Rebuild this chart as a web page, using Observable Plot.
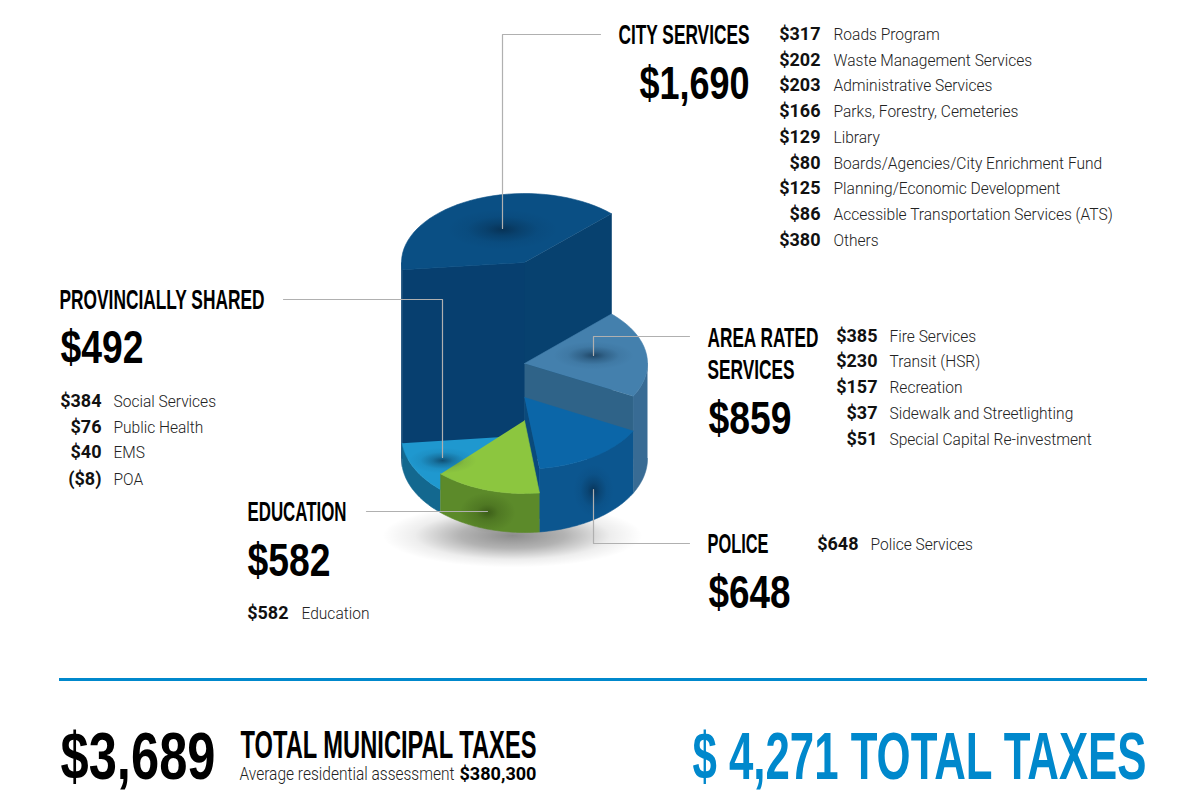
<!DOCTYPE html>
<html><head><meta charset="utf-8">
<style>html,body{margin:0;padding:0;background:#fff}svg{display:block}</style>
<script src="https://cdn.jsdelivr.net/npm/d3@7"></script>
<script src="https://cdn.jsdelivr.net/npm/@observablehq/plot@0.6"></script>
</head><body><div id="chart"></div>
<script>
// ---- data ----
const sliceNames  = ["CITY SERVICES","AREA RATED SERVICES","POLICE","EDUCATION","PROVINCIALLY SHARED"];
const sliceTotals = [1690,859,648,582,492];
const sliceSweeps = [141,73,55,50,41];
const cityValues = [317,202,203,166,129,80,125,86,380];
const cityNames  = ["Roads Program","Waste Management Services","Administrative Services","Parks, Forestry, Cemeteries","Library","Boards/Agencies/City Enrichment Fund","Planning/Economic Development","Accessible Transportation Services (ATS)","Others"];
const areaValues = [385,230,157,37,51];
const areaNames  = ["Fire Services","Transit (HSR)","Recreation","Sidewalk and Streetlighting","Special Capital Re-investment"];
const policeValues = [648];
const policeNames  = ["Police Services"];
const eduValues = [582];
const eduNames  = ["Education"];
const provValues = [384,76,40,-8];
const provNames  = ["Social Services","Public Health","EMS","POA"];
const totalMunicipal = 3689, totalTaxes = 4271, assessment = 380300;

// ---- layout ----
const money = v => v < 0 ? `($${-v})` : `$${d3.format(",")(v)}`;
const cx = 524, rx = 123, baseY = 458, baseRy = 74;
const startAngle = -45;
// height of each extruded slice grows with its total
const levelY  = d3.scaleLinear().domain([492,582,648,859,1690]).range([435,420,397,363,262]);
const levelRy = d3.scaleLinear().domain([492,582,648,859,1690]).range([74,73,71.5,70,69]);
const rad = d => d*Math.PI/180;
const pt = (a,cy,ry) => ({x: cx+rx*Math.cos(rad(a)), y: cy+ry*Math.sin(rad(a))});
const arc = (a0,a1,cy,ry) => d3.range(0,41).map(i => pt(a0+(a1-a0)*i/40,cy,ry));

const palette = [
  {top:"#0a4f84", side:"#073f6f", face:"#073f6f", face2:"#07416f"},
  {top:"#4480ad", side:"#386b94", face:"#2f6388", face2:"#2f6388"},
  {top:"#0b66a8", side:"#0c568f", face:"#0a4a7c", face2:"#0a4a7c"},
  {top:"#8cc63f", side:"#5c8a2a", face:"#5c8a2a", face2:"#5c8a2a"},
  {top:"#1f98cf", side:"#13688f", face:"#13688f", face2:"#13688f"}
];
let acc = startAngle;
const wedges = sliceTotals.map((v,i)=>{
  let w;
  if (i===0) w = {a0:startAngle+360-sliceSweeps[0],a1:startAngle+360};
  else { w = {a0:acc,a1:acc+sliceSweeps[i]}; acc += sliceSweeps[i]; }
  return {...w, cy:levelY(v), ry:levelRy(v), c:palette[i]};
});

const poly = (pts,fill) => Plot.line(pts,{x:"x",y:"y",fill,stroke:fill.startsWith("url")?"none":fill,strokeWidth:0.6,curve:"linear"});
const spot = (x,y,a,b,id="spot") => poly(arc(0,360,y,b).map(p=>({x:x+(p.x-cx)*a/rx,y:p.y})),`url(#${id})`);

function wedgeMarks(w,i){
  const apex = {x:cx,y:w.cy};
  const out = [];
  const p0 = pt(w.a0,w.cy,w.ry), p1 = pt(w.a1,w.cy,w.ry);
  if (i===0){
    // left face runs a little under the right face so that no seam shows
    out.push(poly([apex,p0,{x:p0.x,y:baseY},{x:cx+3,y:baseY},{x:cx+3,y:w.cy}],w.c.face));
    out.push(poly([apex,p1,{x:p1.x,y:baseY},{x:cx,y:baseY}],w.c.face2));
    out.push(poly([...arc(w.a0,180,w.cy,w.ry),...arc(180,w.a0,baseY,baseRy)],w.c.side));
  }
  if (i===1) out.push(poly([apex,p1,{x:p1.x,y:baseY},{x:cx,y:baseY}],w.c.face));
  if (i===2) out.push(poly([apex,p1,{x:p1.x,y:baseY+60},{x:cx,y:baseY+60}],w.c.face));
  if (i>0){
    const a = Math.max(w.a0,0), b = Math.min(w.a1,180);
    out.push(poly([...arc(a,b,w.cy,w.ry),...arc(b,a,baseY,baseRy)],w.c.side));
  }
  out.push(poly([apex,...arc(w.a0,w.a1,w.cy,w.ry)],w.c.top));
  return out;
}
const pieMarks = [0,1,2,4,3].flatMap(i => wedgeMarks(wedges[i],i));

// text tables
const itemRows = (vals,names,right,left,ys) => ({
  amounts: vals.map((v,i)=>({t:money(v),x:right,y:ys[i]})),
  names: names.map((n,i)=>({t:n,x:left,y:ys[i]}))
});
const blocks = [
  itemRows(cityValues,cityNames,820,833,[39,65,90,116,142,168,193,219,245]),
  itemRows(areaValues,areaNames,877,889,[341,366,392,418,444]),
  itemRows(policeValues,policeNames,858,870,[549]),
  itemRows(eduValues,eduNames,288,301,[618]),
  itemRows(provValues,provNames,101,113,[406,432,457,484])
];
const amounts = blocks.flatMap(b=>b.amounts), names = blocks.flatMap(b=>b.names);

const headsEnd = [{t:sliceNames[0],x:749,y:43,w:131}];
const heads = [
  {t:"AREA RATED",x:707,y:346.5,w:111},
  {t:"SERVICES",x:707,y:378.5,w:87},
  {t:sliceNames[2],x:707,y:552.5,w:61},
  {t:sliceNames[3],x:247,y:520.5,w:99},
  {t:sliceNames[4],x:59,y:308.5,w:205}
];
const bigs = [
  {t:money(sliceTotals[0]),x:639,y:98.5,w:110},
  {t:money(sliceTotals[1]),x:708,y:433,w:83},
  {t:money(sliceTotals[2]),x:708,y:607,w:82},
  {t:money(sliceTotals[3]),x:247,y:575,w:83},
  {t:money(sliceTotals[4]),x:60,y:362,w:83}
];
const footBig = [
  {t:money(totalMunicipal),x:60,y:778,w:155,f:"#000"},
  {t:`$ ${d3.format(",")(totalTaxes)} TOTAL TAXES`,x:692,y:778,w:454,f:"#0088cc"}
];
const footHead = [{t:"TOTAL MUNICIPAL TAXES",x:240,y:757,w:296}];
const footSub = [{t:"Average residential assessment",x:239,y:779,w:215}];
const footSubB = [{t:money(assessment),x:459,y:779,w:77}];

const leaders = [
  [[502,228],[502,34],[600,34]],
  [[283,299],[442,299],[442,457]],
  [[366,511],[487,511]],
  [[689,336],[593,336],[593,355]],
  [[593,489],[593,543],[689,543]]
].flatMap((l,k)=>l.map(([x,y])=>({x,y,k})));

const display = '"Liberation Sans",sans-serif';
const txt = (data,opts) => Plot.text(data,{x:"x",y:"y",text:"t",lineAnchor:"bottom",...opts});

const defs = () => {
  const d = d3.create("svg:defs");
  const g = (id,stops) => {
    const r = d.append("radialGradient").attr("id",id);
    stops.forEach(([o,c,a])=>r.append("stop").attr("offset",o).attr("stop-color",c).attr("stop-opacity",a));
  };
  g("spot",[[0,"#062038",0.6],[0.3,"#062038",0.3],[0.65,"#062038",0.07],[1,"#062038",0]]);
  g("spotGreen",[[0,"#223a0a",0.55],[0.4,"#223a0a",0.22],[1,"#223a0a",0]]);
  g("ground",[[0,"#000",0.45],[0.4,"#000",0.3],[0.75,"#000",0.07],[1,"#000",0]]);
  return d.node();
};

const chart = Plot.plot({
  width:1200,height:802,margin:0,
  x:{domain:[0,1200],range:[0,1200],axis:null},
  y:{domain:[0,802],range:[0,802],axis:null},
  style:{background:"#fff",overflow:"visible"},
  marks:[
    defs,
    spot(512,535,130,32,"ground"),
    ...pieMarks,
    spot(502,229,55,20),
    spot(593,355,40,14),
    spot(593,490,20,26),
    spot(442,460,34,13),
    spot(487,512,28,20,"spotGreen"),
    Plot.line(leaders,{x:"x",y:"y",z:"k",stroke:"#b0b0b0",strokeWidth:1.2,curve:"linear"}),
    Plot.ruleY([679],{x1:59,x2:1147,stroke:"#0088cc",strokeWidth:3}),
    txt(amounts,{textAnchor:"end",fontFamily:"Roboto",fontWeight:700,fontSize:18,fill:"#111"}),
    txt(names,{textAnchor:"start",fontFamily:"Roboto",fontWeight:300,fontSize:17,fill:"#222"}),
    txt(headsEnd,{textAnchor:"end",fontFamily:display,fontWeight:700,fontSize:28,fill:"#000"}),
    txt(heads,{textAnchor:"start",fontFamily:display,fontWeight:700,fontSize:28,fill:"#000"}),
    txt(bigs,{textAnchor:"start",fontFamily:display,fontWeight:700,fontSize:46,fill:"#000"}),
    txt(footBig,{textAnchor:"start",fontFamily:display,fontWeight:700,fontSize:67,fill:"f"}),
    txt(footHead,{textAnchor:"start",fontFamily:display,fontWeight:700,fontSize:38,fill:"#000"}),
    txt(footSub,{textAnchor:"start",fontFamily:"Roboto",fontWeight:300,fontSize:18,fill:"#222"}),
    txt(footSubB,{textAnchor:"start",fontFamily:"Roboto",fontWeight:700,fontSize:18,fill:"#000"})
  ]
});
document.getElementById("chart").append(chart);

// text groups come in mark order; fit the display type to widths
const groups = chart.querySelectorAll('g[aria-label="text"]');
const fit = (g,w) => g.querySelectorAll("text").forEach((t,i)=>{
  t.setAttribute("textLength",w(i,t));
  t.setAttribute("lengthAdjust","spacingAndGlyphs");
});
fit(groups[1],(i,t)=>t.getComputedTextLength()*0.914);
[headsEnd,heads,bigs,footBig,footHead,footSub,footSubB].forEach((rows,k)=>fit(groups[k+2],i=>rows[i].w));
</script></body></html>
